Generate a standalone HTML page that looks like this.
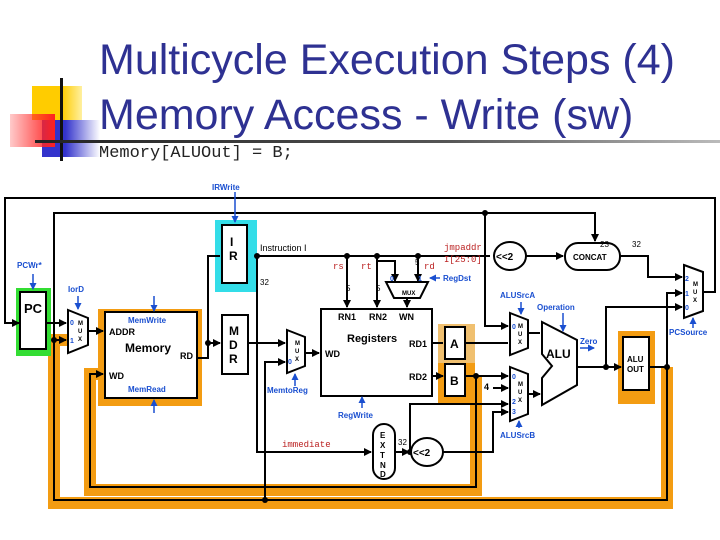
<!DOCTYPE html>
<html><head><style>
body{margin:0;background:#fff;width:720px;height:540px;overflow:hidden;position:relative;font-family:"Liberation Sans",sans-serif}
.t{position:absolute;left:99px;color:#2e3192;font-size:43px;line-height:1;white-space:nowrap}
</style></head><body>
<div style="position:absolute;left:32px;top:86px;width:50px;height:34px;background:linear-gradient(90deg,#ffcc00 60%,#fff0a0)"></div>
<div style="position:absolute;left:42px;top:120px;width:58px;height:37px;background:linear-gradient(90deg,#3333cc 40%,rgba(51,51,204,0))"></div>
<div style="position:absolute;left:10px;top:114px;width:45px;height:33px;background:linear-gradient(90deg,rgba(255,80,80,0.3),#ff2020)"></div>
<div style="position:absolute;left:60px;top:78px;width:3px;height:83px;background:#111"></div>
<div style="position:absolute;left:35px;top:140px;width:685px;height:3px;background:linear-gradient(90deg,#222,#555 60%,#bbb)"></div>
<div class="t" style="top:39px">Multicycle Execution Steps (4)</div>
<div class="t" style="top:94px">Memory Access - Write (sw)</div>
<div style="position:absolute;left:99px;top:144px;font-family:'Liberation Mono',monospace;font-size:17px;color:#222">Memory[ALUOut] = B;</div>
<svg width="720" height="540" style="position:absolute;left:0;top:0" font-family="Liberation Sans,sans-serif" font-weight="bold">
<defs><marker id="a" markerUnits="userSpaceOnUse" markerWidth="8" markerHeight="8" refX="7" refY="4" orient="auto"><path d="M0,0L8,4L0,8z" fill="#000"/></marker>
<marker id="b" markerUnits="userSpaceOnUse" markerWidth="7" markerHeight="7" refX="6" refY="3.5" orient="auto"><path d="M0,0L7,3.5L0,7z" fill="#1a4fd0"/></marker></defs>
<g fill="none" stroke="#f39c12" stroke-width="12">
<path d="M476,376V490H90V374H100"/>
<path d="M667,367V503H54V340H68"/>
</g>
<rect x="98" y="309" width="104" height="97" fill="#f39c12"/>
<rect x="438" y="324" width="37" height="39" fill="#f0c070"/>
<rect x="438" y="363" width="37" height="40" fill="#f39c12"/>
<rect x="618" y="331" width="37" height="73" fill="#f39c12"/>
<rect x="215" y="220" width="42" height="72" fill="#33dde8"/>
<rect x="16" y="288" width="35" height="68" fill="#33dd33"/>
<g fill="none" stroke="#000" stroke-width="2">
<path d="M476,376V487H90V374H103" marker-end="url(#a)"/>
<path d="M667,367V500H54V340H66" marker-end="url(#a)"/>
<path d="M703,292H715V198H5V323H19" marker-end="url(#a)"/>
<path d="M54,340V213H595V241" marker-end="url(#a)"/>
<path d="M485,213V326H508" marker-end="url(#a)"/>
<path d="M47,323H66" marker-end="url(#a)"/>
<path d="M88,331H103" marker-end="url(#a)"/>
<path d="M197,358H208V256H220M208,343H220" marker-end="url(#a)"/>
<path d="M248,343H285" marker-end="url(#a)"/>
<path d="M265,500V362H285" marker-end="url(#a)"/>
<path d="M305,353H319" marker-end="url(#a)"/>
<path d="M257,256H490"/>
<path d="M257,256V452H371" marker-end="url(#a)"/>
<path d="M347,256V307" marker-end="url(#a)"/>
<path d="M377,256V307" marker-end="url(#a)"/>
<path d="M377,261H395V281" marker-end="url(#a)"/>
<path d="M418,256V281" marker-end="url(#a)"/>
<path d="M407,298V307" marker-end="url(#a)"/>
<path d="M526,256H563" marker-end="url(#a)"/>
<path d="M620,256H648V277H682" marker-end="url(#a)"/>
<path d="M432,343H443M432,376H443" marker-end="url(#a)"/>
<path d="M465,343H508M465,376H508" marker-end="url(#a)"/>
<path d="M493,388H508" marker-end="url(#a)"/>
<path d="M395,452H409" marker-end="url(#a)"/>
<path d="M410,452V404H508" marker-end="url(#a)"/>
<path d="M443,452H493V412H508" marker-end="url(#a)"/>
<path d="M528,333H540M528,394H540" marker-end="url(#a)"/>
<path d="M577,367H621" marker-end="url(#a)"/>
<path d="M606,367V307H682" marker-end="url(#a)"/>
<path d="M667,367H649"/>
<path d="M667,367V293H682" marker-end="url(#a)"/>
</g>
<g fill="#000"><circle cx="54" cy="340" r="3"/><circle cx="208" cy="343" r="3"/><circle cx="257" cy="256" r="3"/><circle cx="347" cy="256" r="3"/><circle cx="377" cy="256" r="3"/><circle cx="418" cy="256" r="3"/><circle cx="485" cy="213" r="3"/><circle cx="476" cy="376" r="3"/><circle cx="265" cy="500" r="3"/><circle cx="410" cy="452" r="3"/><circle cx="606" cy="367" r="3"/><circle cx="667" cy="367" r="3"/></g>
<g fill="#fff" stroke="#000" stroke-width="2">
<rect x="20" y="292" width="26" height="57"/>
<rect x="105" y="312" width="92" height="86"/>
<rect x="222" y="225" width="25" height="58"/>
<rect x="222" y="315" width="26" height="59"/>
<rect x="321" y="309" width="111" height="87"/>
<rect x="445" y="327" width="20" height="32"/>
<rect x="445" y="364" width="20" height="32"/>
<rect x="623" y="337" width="26" height="53"/>
<path d="M68,310L88,318V345L68,353Z"/>
<path d="M287,330L305,337V366L287,373Z"/>
<path d="M510,313L528,320V348L510,355Z"/>
<path d="M510,367L528,374V414L510,421Z"/>
<path d="M684,265L703,272V311L684,318Z"/>
<path d="M386,282H428L420,298H394Z"/>
<path d="M542,322L577,340V385L542,405V378L552,366L542,354Z"/>
<ellipse cx="510" cy="256" rx="16" ry="14"/>
<rect x="565" y="243" width="55" height="27" rx="13"/>
<rect x="373" y="424" width="22" height="55" rx="11"/>
<ellipse cx="427" cy="452" rx="16" ry="14"/>
</g>
<g font-size="11" fill="#000">
<text x="24" y="313" font-size="13">PC</text>
<text x="230" y="246" font-size="12">I</text><text x="229" y="260" font-size="12">R</text>
<text x="229" y="335" font-size="12">M</text><text x="229" y="349" font-size="12">D</text><text x="229" y="363" font-size="12">R</text>
<text x="125" y="352" font-size="12">Memory</text>
<text x="109" y="335" font-size="9">ADDR</text><text x="180" y="359" font-size="9">RD</text><text x="109" y="379" font-size="9">WD</text>
<text x="260" y="251" font-size="9" font-weight="normal">Instruction  I</text>
<text x="347" y="342">Registers</text>
<text x="338" y="320" font-size="9">RN1</text><text x="369" y="320" font-size="9">RN2</text><text x="399" y="320" font-size="9">WN</text>
<text x="325" y="357" font-size="9">WD</text><text x="409" y="347" font-size="9">RD1</text><text x="409" y="380" font-size="9">RD2</text>
<text x="450" y="348" font-size="12">A</text><text x="450" y="385" font-size="12">B</text>
<text x="546" y="358" font-size="12">ALU</text>
<text x="627" y="362" font-size="8">ALU</text><text x="627" y="372" font-size="8">OUT</text>
<text x="496" y="260" font-size="10">&lt;&lt;2</text><text x="413" y="456" font-size="10">&lt;&lt;2</text>
<text x="573" y="260" font-size="8">CONCAT</text>
<text x="380" y="438" font-size="8">E</text><text x="380" y="448" font-size="8">X</text><text x="380" y="458" font-size="8">T</text><text x="380" y="468" font-size="8">N</text><text x="380" y="477" font-size="8">D</text>
<text x="402" y="295" font-size="6">MUX</text>
<text x="484" y="390" font-size="9">4</text>
<g font-size="6"><text x="78" y="325">M</text><text x="78" y="333">U</text><text x="78" y="341">X</text>
<text x="295" y="345">M</text><text x="295" y="353">U</text><text x="295" y="361">X</text>
<text x="518" y="328">M</text><text x="518" y="336">U</text><text x="518" y="344">X</text>
<text x="518" y="386">M</text><text x="518" y="394">U</text><text x="518" y="402">X</text>
<text x="693" y="286">M</text><text x="693" y="294">U</text><text x="693" y="302">X</text></g>
<g font-size="8" font-weight="normal"><text x="600" y="247">23</text><text x="632" y="247">32</text><text x="398" y="445">32</text><text x="415" y="265">5</text><text x="346" y="291">5</text><text x="376" y="291">5</text><text x="260" y="285">32</text></g>
</g>
<g fill="#1a4fd0" font-size="8">
<text x="212" y="190">IRWrite</text><text x="17" y="268">PCWr*</text><text x="68" y="292">IorD</text>
<text x="128" y="323">MemWrite</text><text x="128" y="392">MemRead</text><text x="267" y="393">MemtoReg</text>
<text x="338" y="418">RegWrite</text><text x="443" y="281">RegDst</text><text x="500" y="298">ALUSrcA</text>
<text x="537" y="310">Operation</text><text x="500" y="438">ALUSrcB</text><text x="669" y="335">PCSource</text><text x="580" y="344">Zero</text>
<text x="685" y="281" font-size="7">2</text><text x="685" y="296" font-size="7">1</text><text x="685" y="310" font-size="7">0</text>
<text x="512" y="329" font-size="7">0</text><text x="512" y="379" font-size="7">0</text><text x="512" y="404" font-size="7">2</text><text x="512" y="414" font-size="7">3</text>
<text x="70" y="325" font-size="7">0</text><text x="70" y="343" font-size="7">1</text><text x="288" y="364" font-size="7">0</text>
<text x="390" y="281" font-size="7">0</text><text x="418" y="281" font-size="7">1</text>
</g>
<g stroke="#1a4fd0" stroke-width="1.5" fill="none">
<path d="M235,192V222" marker-end="url(#b)"/><path d="M33,274V289" marker-end="url(#b)"/><path d="M78,296V309" marker-end="url(#b)"/>
<path d="M154,296V311" marker-end="url(#b)"/><path d="M154,413V400" marker-end="url(#b)"/><path d="M295,386V374" marker-end="url(#b)"/>
<path d="M362,408V397" marker-end="url(#b)"/><path d="M440,278H430" marker-end="url(#b)"/><path d="M521,302V314" marker-end="url(#b)"/>
<path d="M563,313V331" marker-end="url(#b)"/><path d="M519,428V421" marker-end="url(#b)"/><path d="M693,328V318" marker-end="url(#b)"/><path d="M580,348H594" marker-end="url(#b)"/>
</g>
<g fill="#b22" font-family="Liberation Mono,monospace" font-size="9" font-weight="normal">
<text x="333" y="269">rs</text><text x="361" y="269">rt</text><text x="424" y="269">rd</text>
<text x="444" y="250">jmpaddr</text><text x="444" y="262">I[25:0]</text><text x="282" y="447">immediate</text>
</g>
</svg>
</body></html>
